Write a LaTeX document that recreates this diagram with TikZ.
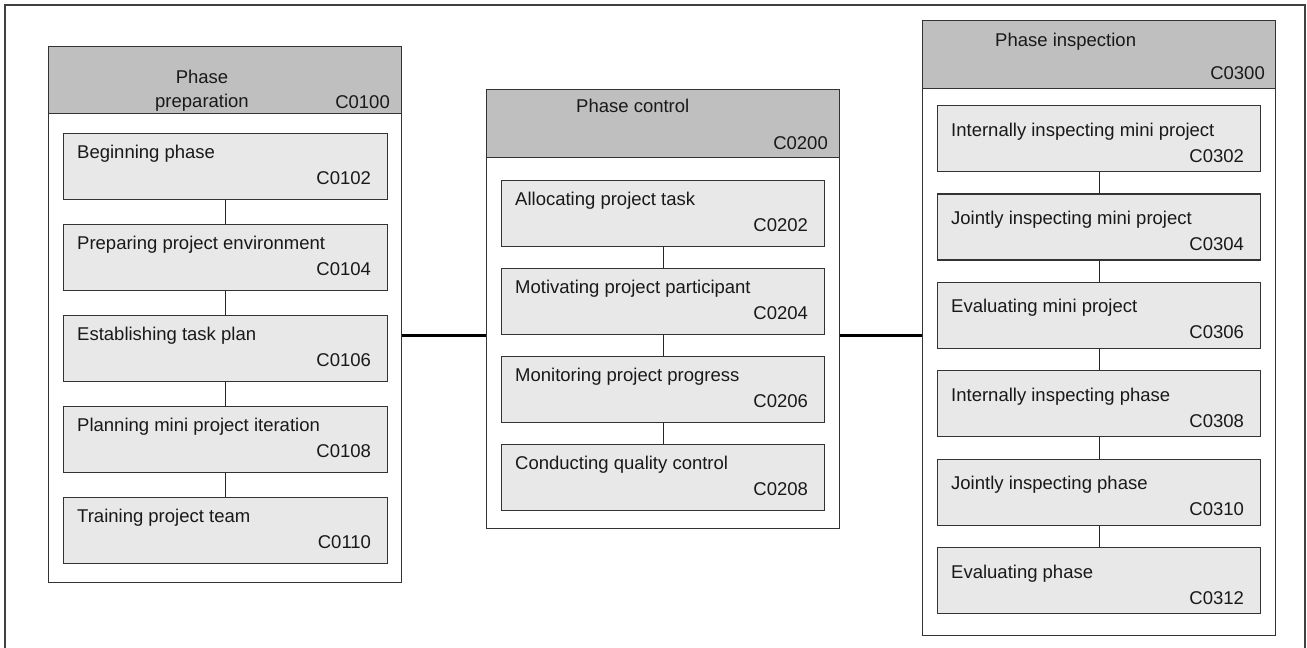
\documentclass[tikz,border=0pt]{standalone}
\usepackage{fontspec}
\setmainfont{Liberation Sans}
\usepackage{tikz}
\usetikzlibrary{calc}

\tikzset{
  box/.style={rectangle, draw=black!80, line width=1.2pt, anchor=north west, inner sep=0pt},
  phase/.style={box, fill=white, minimum width=353},
  head/.style={box, fill=black!25, minimum width=353},
  task/.style={box, fill=black!9, minimum width=324, minimum height=66},
  title/.style={anchor=base west, inner sep=0pt, text=black!90},
  code/.style={anchor=base east, inner sep=0pt, text=black!90},
  link/.style={draw=black!85, line width=1.2pt},
  bus/.style={draw=black, line width=3pt}
}

\begin{document}
\begin{tikzpicture}[x=1pt, y=-1pt, font=\fontsize{18.5}{24}\selectfont]
\useasboundingbox (0,0) rectangle (1307,648);
\draw[draw=black!75, line width=1.2pt] (5,660) -- (5,5) -- (1305,5) -- (1305,660);

% phase preparation
\node[phase, minimum height=536] (prep) at (48,46) {};
\node[head, minimum height=67] (preph) at (48,46) {};
\node[align=center, inner sep=0pt, anchor=base, text=black!90] (prept) at (202,107) {Phase\\preparation};
\node[code] (prepc) at (390,108) {C0100};
\foreach \t/\c [count=\i] in {Beginning phase/C0102, Preparing project environment/C0104,
  Establishing task plan/C0106, Planning mini project iteration/C0108, Training project team/C0110} {
  \node[task] (p\i) at (63,{133+91*(\i-1)}) {};
  \node[title] (p\i t) at ([shift={(14,25)}]p\i.north west) {\t};
  \node[code] (p\i c) at ([shift={(-17,51)}]p\i.north east) {\c};
}
\foreach \i [evaluate=\i as \j using int(\i+1)] in {1,...,4}
  \draw[link] (p\i.south) -- (p\j.north);

% phase control
\node[phase, minimum height=439] (ctrl) at (486,89) {};
\node[head, minimum height=68] (ctrlh) at (486,89) {};
\node[title] (ctrlt) at (576,112) {Phase control};
\node[code] (ctrlc) at (828,149) {C0200};
\foreach \t/\c [count=\i] in {Allocating project task/C0202, Motivating project participant/C0204,
  Monitoring project progress/C0206, Conducting quality control/C0208} {
  \node[task, minimum width=323] (c\i) at (501,{180+88*(\i-1)}) {};
  \node[title] (c\i t) at ([shift={(14,25)}]c\i.north west) {\t};
  \node[code] (c\i c) at ([shift={(-17,51)}]c\i.north east) {\c};
}
\foreach \i [evaluate=\i as \j using int(\i+1)] in {1,...,3}
  \draw[link] (c\i.south) -- (c\j.north);

% phase inspection
\node[phase, minimum height=615] (insp) at (922,20) {};
\node[head, minimum height=68] (insph) at (922,20) {};
\node[title] (inspt) at (995,46) {Phase inspection};
\node[code] (inspc) at (1265,79) {C0300};
\foreach \t/\c [count=\i] in {Internally inspecting mini project/C0302, Jointly inspecting mini project/C0304,
  Evaluating mini project/C0306, Internally inspecting phase/C0308, Jointly inspecting phase/C0310,
  Evaluating phase/C0312} {
  \node[task, minimum width=323] (s\i) at (937,{105+88.4*(\i-1)}) {};
  \node[title] (s\i t) at ([shift={(14,31)}]s\i.north west) {\t};
  \node[code] (s\i c) at ([shift={(-17,57)}]s\i.north east) {\c};
}
\foreach \i [evaluate=\i as \j using int(\i+1)] in {1,...,5}
  \draw[link] (s\i.south) -- (s\j.north);

% links between phases
\coordinate (bus) at (0,335);
\draw[bus] (prep.east |- bus) -- (ctrl.west |- bus);
\draw[bus] (ctrl.east |- bus) -- (insp.west |- bus);
\end{tikzpicture}
\end{document}
